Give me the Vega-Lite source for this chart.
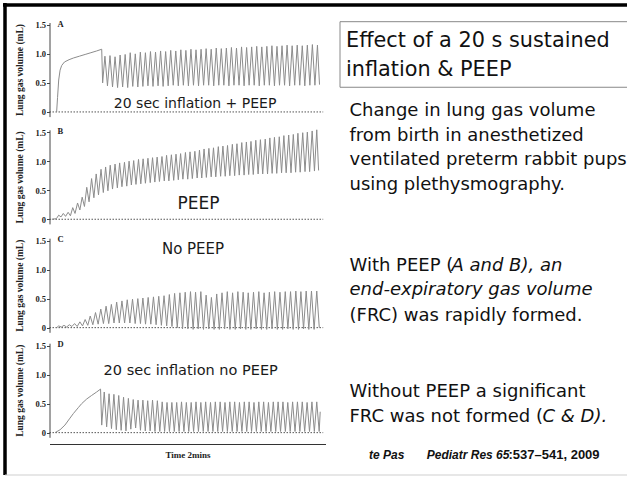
{
  "$schema": "https://vega.github.io/schema/vega-lite/v6.json",
  "width": 627,
  "height": 477,
  "autosize": {"type": "none"},
  "padding": 0,
  "background": "white",
  "config": {"view": {"stroke": null}, "axis": {"grid": false}},
  "datasets": {
    "A": [{"t":3.1,"v":0},{"t":3.5,"v":0.25},{"t":4.0,"v":0.55},{"t":4.6,"v":0.72},{"t":5.3,"v":0.8},{"t":6.5,"v":0.86},{"t":8.5,"v":0.9},{"t":10.5,"v":0.93},{"t":13,"v":0.96},{"t":15.5,"v":0.99},{"t":18,"v":1.02},{"t":20.5,"v":1.05},{"t":22.7,"v":1.08},{"t":23.1,"v":0.5},
      {"t":24.1,"v":0.96},{"t":25.2,"v":0.45},{"t":26.3,"v":0.97},{"t":27.4,"v":0.43},{"t":28.5,"v":0.95},{"t":29.6,"v":0.42},{"t":30.7,"v":0.98},{"t":31.8,"v":0.43},{"t":32.9,"v":0.99},{"t":34.0,"v":0.42},{"t":35.1,"v":1.02},{"t":36.2,"v":0.44},{"t":37.3,"v":1.0},{"t":38.4,"v":0.43},{"t":39.5,"v":1.03},{"t":40.6,"v":0.44},{"t":41.7,"v":1.02},{"t":42.8,"v":0.45},{"t":43.9,"v":1.04},{"t":45.0,"v":0.44},{"t":46.1,"v":1.03},{"t":47.2,"v":0.45},{"t":48.3,"v":1.05},{"t":49.4,"v":0.44},{"t":50.5,"v":1.04},{"t":51.6,"v":0.45},{"t":52.7,"v":1.06},{"t":53.8,"v":0.46},{"t":54.9,"v":1.05},{"t":56.0,"v":0.45},{"t":57.1,"v":1.07},{"t":58.2,"v":0.46},{"t":59.3,"v":1.06},{"t":60.4,"v":0.45},{"t":61.5,"v":1.08},{"t":62.6,"v":0.46},{"t":63.7,"v":1.07},{"t":64.8,"v":0.45},{"t":65.9,"v":1.08},{"t":67.0,"v":0.46},{"t":68.1,"v":1.09},{"t":69.2,"v":0.46},{"t":70.3,"v":1.08},{"t":71.4,"v":0.45},{"t":72.5,"v":1.1},{"t":73.6,"v":0.46},{"t":74.7,"v":1.09},{"t":75.8,"v":0.46},{"t":76.9,"v":1.1},{"t":78.0,"v":0.45},{"t":79.1,"v":1.11},{"t":80.2,"v":0.46},{"t":81.3,"v":1.1},{"t":82.4,"v":0.46},{"t":83.5,"v":1.12},{"t":84.6,"v":0.45},{"t":85.7,"v":1.11},{"t":86.8,"v":0.46},{"t":87.9,"v":1.12},{"t":89.0,"v":0.46},{"t":90.1,"v":1.13},{"t":91.2,"v":0.45},{"t":92.3,"v":1.12},{"t":93.4,"v":0.46},{"t":94.5,"v":1.13},{"t":95.6,"v":0.46},{"t":96.7,"v":1.14},{"t":97.8,"v":0.45},{"t":98.9,"v":1.13},{"t":100.0,"v":0.46},{"t":101.1,"v":1.14},{"t":102.2,"v":0.46},{"t":103.3,"v":1.15},{"t":104.4,"v":0.45},{"t":105.5,"v":1.14},{"t":106.6,"v":0.46},{"t":107.7,"v":1.15},{"t":108.8,"v":0.46},{"t":109.9,"v":1.14},{"t":111.0,"v":0.45},{"t":112.1,"v":1.15},{"t":113.2,"v":0.46},{"t":114.3,"v":1.16},{"t":115.4,"v":0.46},{"t":116.5,"v":1.15},{"t":117.4,"v":0.47}],
    "B": [{"t":1.0,"v":0},{"t":3.0,"v":0.01},
      {"t":4.0,"v":0.07},{"t":5.0,"v":0.04},{"t":6.0,"v":0.1},{"t":7.0,"v":0.05},{"t":8.1,"v":0.12},{"t":9.1,"v":0.06},{"t":10.1,"v":0.2},{"t":11.1,"v":0.1},{"t":12.2,"v":0.28},{"t":13.2,"v":0.16},{"t":14.2,"v":0.38},{"t":15.2,"v":0.22},{"t":16.2,"v":0.55},{"t":17.2,"v":0.3},{"t":18.3,"v":0.7},{"t":19.3,"v":0.37},{"t":20.3,"v":0.78},{"t":21.3,"v":0.42},{"t":22.4,"v":0.86},{"t":23.4,"v":0.46},{"t":24.4,"v":0.9},{"t":25.4,"v":0.49},{"t":26.4,"v":0.93},{"t":27.4,"v":0.52},{"t":28.5,"v":0.95},{"t":29.5,"v":0.54},{"t":30.5,"v":0.97},{"t":31.5,"v":0.56},{"t":32.6,"v":0.98},{"t":33.6,"v":0.57},{"t":34.6,"v":1.0},{"t":35.6,"v":0.59},{"t":36.6,"v":1.01},{"t":37.6,"v":0.6},{"t":38.7,"v":1.03},{"t":39.7,"v":0.61},{"t":40.7,"v":1.04},{"t":41.7,"v":0.62},{"t":42.8,"v":1.05},{"t":43.8,"v":0.63},{"t":44.8,"v":1.06},{"t":45.8,"v":0.64},{"t":46.8,"v":1.07},{"t":47.8,"v":0.65},{"t":48.9,"v":1.08},{"t":49.9,"v":0.66},{"t":50.9,"v":1.1},{"t":51.9,"v":0.66},{"t":53.0,"v":1.11},{"t":54.0,"v":0.67},{"t":55.0,"v":1.12},{"t":56.0,"v":0.68},{"t":57.0,"v":1.13},{"t":58.0,"v":0.69},{"t":59.1,"v":1.15},{"t":60.1,"v":0.69},{"t":61.1,"v":1.16},{"t":62.1,"v":0.7},{"t":63.2,"v":1.17},{"t":64.2,"v":0.71},{"t":65.2,"v":1.19},{"t":66.2,"v":0.71},{"t":67.2,"v":1.21},{"t":68.2,"v":0.72},{"t":69.3,"v":1.22},{"t":70.3,"v":0.73},{"t":71.3,"v":1.23},{"t":72.3,"v":0.73},{"t":73.4,"v":1.25},{"t":74.4,"v":0.74},{"t":75.4,"v":1.26},{"t":76.4,"v":0.74},{"t":77.4,"v":1.27},{"t":78.4,"v":0.75},{"t":79.5,"v":1.29},{"t":80.5,"v":0.75},{"t":81.5,"v":1.3},{"t":82.5,"v":0.76},{"t":83.6,"v":1.32},{"t":84.6,"v":0.76},{"t":85.6,"v":1.33},{"t":86.6,"v":0.77},{"t":87.6,"v":1.34},{"t":88.6,"v":0.77},{"t":89.7,"v":1.36},{"t":90.7,"v":0.78},{"t":91.7,"v":1.37},{"t":92.7,"v":0.78},{"t":93.8,"v":1.38},{"t":94.8,"v":0.78},{"t":95.8,"v":1.4},{"t":96.8,"v":0.79},{"t":97.8,"v":1.41},{"t":98.8,"v":0.79},{"t":99.9,"v":1.42},{"t":100.9,"v":0.8},{"t":101.9,"v":1.44},{"t":102.9,"v":0.8},{"t":104.0,"v":1.45},{"t":105.0,"v":0.8},{"t":106.0,"v":1.46},{"t":107.0,"v":0.81},{"t":108.0,"v":1.48},{"t":109.0,"v":0.81},{"t":110.1,"v":1.49},{"t":111.1,"v":0.82},{"t":112.1,"v":1.5},{"t":113.1,"v":0.82},{"t":114.2,"v":1.52},{"t":115.2,"v":0.83},{"t":116.2,"v":1.54},{"t":117.0,"v":0.84}],
    "C": [{"t":3.1,"v":0},
      {"t":4.0,"v":0.03},{"t":5.15,"v":0.01},{"t":6.3,"v":0.04},{"t":7.45,"v":0.01},{"t":8.6,"v":0.05},{"t":9.75,"v":0.02},{"t":10.9,"v":0.07},{"t":12.05,"v":0.02},{"t":13.2,"v":0.1},{"t":14.35,"v":0.03},{"t":15.5,"v":0.14},{"t":16.65,"v":0.04},{"t":17.7,"v":0.2},{"t":18.85,"v":0.05},{"t":20.0,"v":0.26},{"t":21.15,"v":0.06},{"t":22.3,"v":0.32},{"t":23.45,"v":0.07},{"t":24.6,"v":0.37},{"t":25.75,"v":0.07},{"t":26.9,"v":0.4},{"t":28.05,"v":0.08},{"t":29.2,"v":0.44},{"t":30.35,"v":0.08},{"t":31.5,"v":0.46},{"t":32.65,"v":0.08},{"t":33.8,"v":0.48},{"t":34.95,"v":0.08},{"t":36.1,"v":0.49},{"t":37.25,"v":0.07},{"t":38.4,"v":0.5},{"t":39.55,"v":0.07},{"t":40.6,"v":0.51},{"t":41.75,"v":0.06},{"t":42.9,"v":0.52},{"t":44.05,"v":0.06},{"t":45.2,"v":0.53},{"t":46.35,"v":0.05},{"t":47.5,"v":0.54},{"t":48.65,"v":0.04},{"t":49.8,"v":0.55},{"t":50.95,"v":0.03},{"t":52.1,"v":0.57},{"t":53.25,"v":0.02},{"t":54.4,"v":0.59},{"t":55.55,"v":0.0},{"t":56.7,"v":0.6},{"t":57.85,"v":-0.02},{"t":59.0,"v":0.61},{"t":60.15,"v":-0.02},{"t":61.3,"v":0.62},{"t":62.45,"v":-0.03},{"t":63.5,"v":0.61},{"t":64.65,"v":-0.02},{"t":65.8,"v":0.62},{"t":66.95,"v":-0.03},{"t":68.1,"v":0.56},{"t":69.25,"v":-0.02},{"t":70.4,"v":0.52},{"t":71.55,"v":-0.03},{"t":72.7,"v":0.58},{"t":73.85,"v":-0.03},{"t":75.0,"v":0.6},{"t":76.15,"v":-0.02},{"t":77.3,"v":0.62},{"t":78.45,"v":-0.03},{"t":79.6,"v":0.6},{"t":80.75,"v":-0.03},{"t":81.9,"v":0.62},{"t":83.05,"v":-0.02},{"t":84.2,"v":0.61},{"t":85.35,"v":-0.03},{"t":86.4,"v":0.6},{"t":87.55,"v":-0.03},{"t":88.7,"v":0.61},{"t":89.85,"v":-0.02},{"t":91.0,"v":0.62},{"t":92.15,"v":-0.03},{"t":93.3,"v":0.6},{"t":94.45,"v":-0.03},{"t":95.6,"v":0.61},{"t":96.75,"v":-0.02},{"t":97.9,"v":0.62},{"t":99.05,"v":-0.03},{"t":100.2,"v":0.61},{"t":101.35,"v":-0.03},{"t":102.5,"v":0.62},{"t":103.65,"v":-0.02},{"t":104.8,"v":0.62},{"t":105.95,"v":-0.03},{"t":107.1,"v":0.63},{"t":108.25,"v":-0.03},{"t":109.3,"v":0.62},{"t":110.45,"v":-0.02},{"t":111.6,"v":0.63},{"t":112.75,"v":-0.03},{"t":113.9,"v":0.63},{"t":115.05,"v":-0.03},{"t":116.2,"v":0.63},{"t":117.3,"v":0.0}],
    "D": [{"t":2.4,"v":0},{"t":4.6,"v":0.05},{"t":6.7,"v":0.13},{"t":8.9,"v":0.25},{"t":10.4,"v":0.33},{"t":12.5,"v":0.43},{"t":14,"v":0.5},{"t":16.2,"v":0.58},{"t":18.3,"v":0.64},{"t":20.5,"v":0.7},{"t":22.2,"v":0.75},{"t":22.7,"v":0.13},
      {"t":23.8,"v":0.7},{"t":24.85,"v":0.1},{"t":25.9,"v":0.67},{"t":26.95,"v":0.07},{"t":28.0,"v":0.66},{"t":29.05,"v":0.05},{"t":30.1,"v":0.64},{"t":31.15,"v":0.04},{"t":32.2,"v":0.61},{"t":33.25,"v":0.03},{"t":34.3,"v":0.59},{"t":35.35,"v":0.06},{"t":36.4,"v":0.57},{"t":37.45,"v":0.08},{"t":38.5,"v":0.56},{"t":39.55,"v":0.04},{"t":40.6,"v":0.56},{"t":41.65,"v":0.03},{"t":42.7,"v":0.55},{"t":43.75,"v":0.03},{"t":44.8,"v":0.56},{"t":45.85,"v":0.02},{"t":46.9,"v":0.55},{"t":47.95,"v":0.02},{"t":49.0,"v":0.53},{"t":50.05,"v":0.02},{"t":51.1,"v":0.52},{"t":52.15,"v":0.02},{"t":53.2,"v":0.52},{"t":54.25,"v":0.02},{"t":55.3,"v":0.52},{"t":56.35,"v":0.02},{"t":57.4,"v":0.53},{"t":58.45,"v":0.02},{"t":59.5,"v":0.52},{"t":60.55,"v":0.02},{"t":61.6,"v":0.52},{"t":62.65,"v":0.02},{"t":63.7,"v":0.53},{"t":64.75,"v":0.02},{"t":65.8,"v":0.52},{"t":66.85,"v":0.02},{"t":67.9,"v":0.53},{"t":68.95,"v":0.02},{"t":70.0,"v":0.52},{"t":71.05,"v":0.02},{"t":72.1,"v":0.53},{"t":73.15,"v":0.02},{"t":74.2,"v":0.53},{"t":75.25,"v":0.02},{"t":76.3,"v":0.52},{"t":77.35,"v":0.02},{"t":78.4,"v":0.53},{"t":79.45,"v":0.02},{"t":80.5,"v":0.53},{"t":81.55,"v":0.02},{"t":82.6,"v":0.52},{"t":83.65,"v":0.02},{"t":84.7,"v":0.53},{"t":85.75,"v":0.02},{"t":86.8,"v":0.53},{"t":87.85,"v":0.02},{"t":88.9,"v":0.52},{"t":89.95,"v":0.02},{"t":91.0,"v":0.53},{"t":92.05,"v":0.02},{"t":93.1,"v":0.53},{"t":94.15,"v":0.02},{"t":95.2,"v":0.52},{"t":96.25,"v":0.02},{"t":97.3,"v":0.53},{"t":98.35,"v":0.02},{"t":99.4,"v":0.53},{"t":100.45,"v":0.02},{"t":101.5,"v":0.53},{"t":102.55,"v":0.02},{"t":103.6,"v":0.52},{"t":104.65,"v":0.02},{"t":105.7,"v":0.53},{"t":106.75,"v":0.02},{"t":107.8,"v":0.53},{"t":108.85,"v":0.02},{"t":109.9,"v":0.53},{"t":110.95,"v":0.02},{"t":112.0,"v":0.52},{"t":113.05,"v":0.02},{"t":114.1,"v":0.53},{"t":115.15,"v":0.02},{"t":116.2,"v":0.53},{"t":117.25,"v":0.02},{"t":117.7,"v":0.36}],
    "zero": [{"t":0,"t2":119,"v":0}],
    "title_lines": [{"text":"Effect of a 20 s sustained","pos":6,"line":1.88},{"text":"inflation & PEEP","pos":6,"line":3.04}],
    "body_lines": [{"text":"Change in lung gas volume","pos":9.5,"line":4.63},{"text":"from birth in anesthetized","pos":9.5,"line":5.63},{"text":"ventilated preterm rabbit pups","pos":9.5,"line":6.6},{"text":"using plethysmography.","pos":9.5,"line":7.6},{"text":"With PEEP (","pos":9.5,"line":10.83},{"text":"(FRC) was rapidly formed.","pos":9.5,"line":12.83},{"text":"Without PEEP a significant","pos":9.5,"line":15.89},{"text":"FRC was not formed (","pos":9.5,"line":16.89}],
    "italic_parts": [{"text":"A and B), an","pos":111.5,"line":10.83},{"text":"end-expiratory gas volume","pos":9.5,"line":11.78},{"text":"C & D).","pos":202.5,"line":16.89}],
    "cite_italic": [{"text":"te Pas","pos":29,"line":18.37},{"text":"Pediatr Res 65","pos":86.7,"line":18.37}],
    "cite_plain": [{"text":":537\u2013541, 2009","pos":168.5,"line":18.37}],
    "frame_dark": [{"pos":-337,"pos2":300,"line":0.2,"line2":0.2},{"pos":-335,"pos2":-335,"line":0.12,"line2":19.0}],
    "frame_light": [{"pos":-335,"pos2":300,"line":19.0,"line2":19.0}],
    "title_box": [{"pos":0,"pos2":300,"line":0.868,"line2":3.49}]
  },
  "layer": [
    {
      "encoding": {
        "x": {"field": "t", "type": "quantitative", "scale": {"domain": [0, 120], "range": [49.5, 325.5], "nice": false, "zero": false}, "axis": null},
        "y": {"field": "v", "type": "quantitative", "scale": {"domain": [-0.08, 1.54], "range": [116.6, 22.5], "nice": false, "zero": false},
          "axis": {"orient": "left", "offset": -49.5, "values": [0, 0.5, 1, 1.5], "labelExpr": "datum.value == 0 ? '0' : format(datum.value, '.1f')", "title": "Lung gas volume (mL)", "tickSize": 3, "labelPadding": 1, "titlePadding": 10, "domainColor": "#444", "tickColor": "#444", "labelFont": "Liberation Serif", "labelFontWeight": "bold", "labelFontSize": 8.5, "labelColor": "#222", "titleFont": "Liberation Serif", "titleFontWeight": "bold", "titleFontSize": 9.5, "titleColor": "#222"}}
      },
      "layer": [
        {"data": {"name": "zero"}, "mark": {"type": "rule", "strokeDash": [1.5, 1.5], "color": "#555", "strokeWidth": 1}, "encoding": {"x2": {"field": "t2"}}},
        {"data": {"name": "A"}, "mark": {"type": "line", "color": "#8c8c8c", "strokeWidth": 1}},
        {"data": {"values": [{"label": "20 sec inflation + PEEP", "t": 63.3, "v": 0.06}]}, "mark": {"type": "text", "font": "DejaVu Sans", "fontSize": 14, "align": "center", "baseline": "alphabetic", "color": "#1a1a1a"}, "encoding": {"text": {"field": "label"}}},
        {"data": {"values": [{"label": "A", "t": 3.5, "v": 1.47}]}, "mark": {"type": "text", "font": "Liberation Serif", "fontWeight": "bold", "fontSize": 8.5, "align": "left", "baseline": "alphabetic", "color": "#222"}, "encoding": {"text": {"field": "label"}}}
      ]
    },
    {
      "encoding": {
        "x": {"field": "t", "type": "quantitative", "scale": {"domain": [0, 120], "range": [49.5, 325.5], "nice": false, "zero": false}, "axis": null},
        "y": {"field": "v", "type": "quantitative", "scale": {"domain": [-0.08, 1.54], "range": [223.9, 129.8], "nice": false, "zero": false},
          "axis": {"orient": "left", "offset": -49.5, "values": [0, 0.5, 1, 1.5], "labelExpr": "datum.value == 0 ? '0' : format(datum.value, '.1f')", "title": "Lung gas volume (mL)", "tickSize": 3, "labelPadding": 1, "titlePadding": 10, "domainColor": "#444", "tickColor": "#444", "labelFont": "Liberation Serif", "labelFontWeight": "bold", "labelFontSize": 8.5, "labelColor": "#222", "titleFont": "Liberation Serif", "titleFontWeight": "bold", "titleFontSize": 9.5, "titleColor": "#222"}}
      },
      "layer": [
        {"data": {"name": "zero"}, "mark": {"type": "rule", "strokeDash": [1.5, 1.5], "color": "#555", "strokeWidth": 1}, "encoding": {"x2": {"field": "t2"}}},
        {"data": {"name": "B"}, "mark": {"type": "line", "color": "#8c8c8c", "strokeWidth": 1}},
        {"data": {"values": [{"label": "PEEP", "t": 64.8, "v": 0.18}]}, "mark": {"type": "text", "font": "DejaVu Sans", "fontSize": 17, "align": "center", "baseline": "alphabetic", "color": "#1a1a1a"}, "encoding": {"text": {"field": "label"}}},
        {"data": {"values": [{"label": "B", "t": 3.5, "v": 1.47}]}, "mark": {"type": "text", "font": "Liberation Serif", "fontWeight": "bold", "fontSize": 8.5, "align": "left", "baseline": "alphabetic", "color": "#222"}, "encoding": {"text": {"field": "label"}}}
      ]
    },
    {
      "encoding": {
        "x": {"field": "t", "type": "quantitative", "scale": {"domain": [0, 120], "range": [49.5, 325.5], "nice": false, "zero": false}, "axis": null},
        "y": {"field": "v", "type": "quantitative", "scale": {"domain": [-0.08, 1.54], "range": [332.3, 238.2], "nice": false, "zero": false},
          "axis": {"orient": "left", "offset": -49.5, "values": [0, 0.5, 1, 1.5], "labelExpr": "datum.value == 0 ? '0' : format(datum.value, '.1f')", "title": "Lung gas volume (mL)", "tickSize": 3, "labelPadding": 1, "titlePadding": 10, "domainColor": "#444", "tickColor": "#444", "labelFont": "Liberation Serif", "labelFontWeight": "bold", "labelFontSize": 8.5, "labelColor": "#222", "titleFont": "Liberation Serif", "titleFontWeight": "bold", "titleFontSize": 9.5, "titleColor": "#222"}}
      },
      "layer": [
        {"data": {"name": "zero"}, "mark": {"type": "rule", "strokeDash": [1.5, 1.5], "color": "#555", "strokeWidth": 1}, "encoding": {"x2": {"field": "t2"}}},
        {"data": {"name": "C"}, "mark": {"type": "line", "color": "#8c8c8c", "strokeWidth": 1}},
        {"data": {"values": [{"label": "No PEEP", "t": 62.4, "v": 1.27}]}, "mark": {"type": "text", "font": "DejaVu Sans", "fontSize": 15, "align": "center", "baseline": "alphabetic", "color": "#1a1a1a"}, "encoding": {"text": {"field": "label"}}},
        {"data": {"values": [{"label": "C", "t": 3.5, "v": 1.47}]}, "mark": {"type": "text", "font": "Liberation Serif", "fontWeight": "bold", "fontSize": 8.5, "align": "left", "baseline": "alphabetic", "color": "#222"}, "encoding": {"text": {"field": "label"}}}
      ]
    },
    {
      "encoding": {
        "x": {"field": "t", "type": "quantitative", "scale": {"domain": [0, 120], "range": [49.5, 325.5], "nice": false, "zero": false},
          "axis": {"orient": "bottom", "offset": -33, "ticks": false, "labels": false, "domainColor": "#333", "domainWidth": 1.2, "title": "Time 2mins", "titleFont": "Liberation Serif", "titleFontWeight": "bold", "titleFontSize": 9, "titlePadding": 6, "titleColor": "#222"}},
        "y": {"field": "v", "type": "quantitative", "scale": {"domain": [-0.08, 1.54], "range": [437.3, 343.2], "nice": false, "zero": false},
          "axis": {"orient": "left", "offset": -49.5, "values": [0, 0.5, 1, 1.5], "labelExpr": "datum.value == 0 ? '0' : format(datum.value, '.1f')", "title": "Lung gas volume (mL)", "tickSize": 3, "labelPadding": 1, "titlePadding": 10, "domainColor": "#444", "tickColor": "#444", "labelFont": "Liberation Serif", "labelFontWeight": "bold", "labelFontSize": 8.5, "labelColor": "#222", "titleFont": "Liberation Serif", "titleFontWeight": "bold", "titleFontSize": 9.5, "titleColor": "#222"}}
      },
      "layer": [
        {"data": {"name": "zero"}, "mark": {"type": "rule", "strokeDash": [1.5, 1.5], "color": "#555", "strokeWidth": 1}, "encoding": {"x2": {"field": "t2"}}},
        {"data": {"name": "D"}, "mark": {"type": "line", "color": "#8c8c8c", "strokeWidth": 1}},
        {"data": {"values": [{"label": "20 sec inflation no PEEP", "t": 61.4, "v": 0.99}]}, "mark": {"type": "text", "font": "DejaVu Sans", "fontSize": 14.5, "align": "center", "baseline": "alphabetic", "color": "#1a1a1a"}, "encoding": {"text": {"field": "label"}}},
        {"data": {"values": [{"label": "D", "t": 3.5, "v": 1.47}]}, "mark": {"type": "text", "font": "Liberation Serif", "fontWeight": "bold", "fontSize": 8.5, "align": "left", "baseline": "alphabetic", "color": "#222"}, "encoding": {"text": {"field": "label"}}}
      ]
    },
    {
      "encoding": {
        "x": {"field": "pos", "type": "quantitative", "scale": {"domain": [0, 287], "range": [340, 627], "nice": false, "zero": false}, "axis": null},
        "y": {"field": "line", "type": "quantitative", "scale": {"domain": [0, 19.08], "range": [0, 477], "nice": false, "zero": false}, "axis": null}
      },
      "layer": [
        {"data": {"name": "title_box"}, "mark": {"type": "rect", "fillOpacity": 0, "stroke": "#888", "strokeWidth": 1}, "encoding": {"x2": {"field": "pos2"}, "y2": {"field": "line2"}}},
        {"data": {"name": "frame_dark"}, "mark": {"type": "rule", "color": "#000", "strokeWidth": 3.5}, "encoding": {"x2": {"field": "pos2"}, "y2": {"field": "line2"}}},
        {"data": {"name": "frame_light"}, "mark": {"type": "rule", "color": "#cfcfcf", "strokeWidth": 1}, "encoding": {"x2": {"field": "pos2"}, "y2": {"field": "line2"}}},
        {"data": {"name": "title_lines"}, "mark": {"type": "text", "font": "DejaVu Sans", "fontSize": 20.8, "align": "left", "baseline": "alphabetic", "color": "#111"}, "encoding": {"text": {"field": "text"}}},
        {"data": {"name": "body_lines"}, "mark": {"type": "text", "font": "DejaVu Sans", "fontSize": 18, "align": "left", "baseline": "alphabetic", "color": "#111"}, "encoding": {"text": {"field": "text"}}},
        {"data": {"name": "italic_parts"}, "mark": {"type": "text", "font": "DejaVu Sans", "fontStyle": "italic", "fontSize": 18, "align": "left", "baseline": "alphabetic", "color": "#111"}, "encoding": {"text": {"field": "text"}}},
        {"data": {"name": "cite_italic"}, "mark": {"type": "text", "font": "Liberation Sans", "fontStyle": "italic", "fontWeight": "bold", "fontSize": 12, "align": "left", "baseline": "alphabetic", "color": "#111"}, "encoding": {"text": {"field": "text"}}},
        {"data": {"name": "cite_plain"}, "mark": {"type": "text", "font": "Liberation Sans", "fontWeight": "bold", "fontSize": 13, "align": "left", "baseline": "alphabetic", "color": "#111"}, "encoding": {"text": {"field": "text"}}}
      ]
    }
  ],
  "resolve": {"scale": {"x": "independent", "y": "independent"}, "axis": {"x": "independent", "y": "independent"}}
}
